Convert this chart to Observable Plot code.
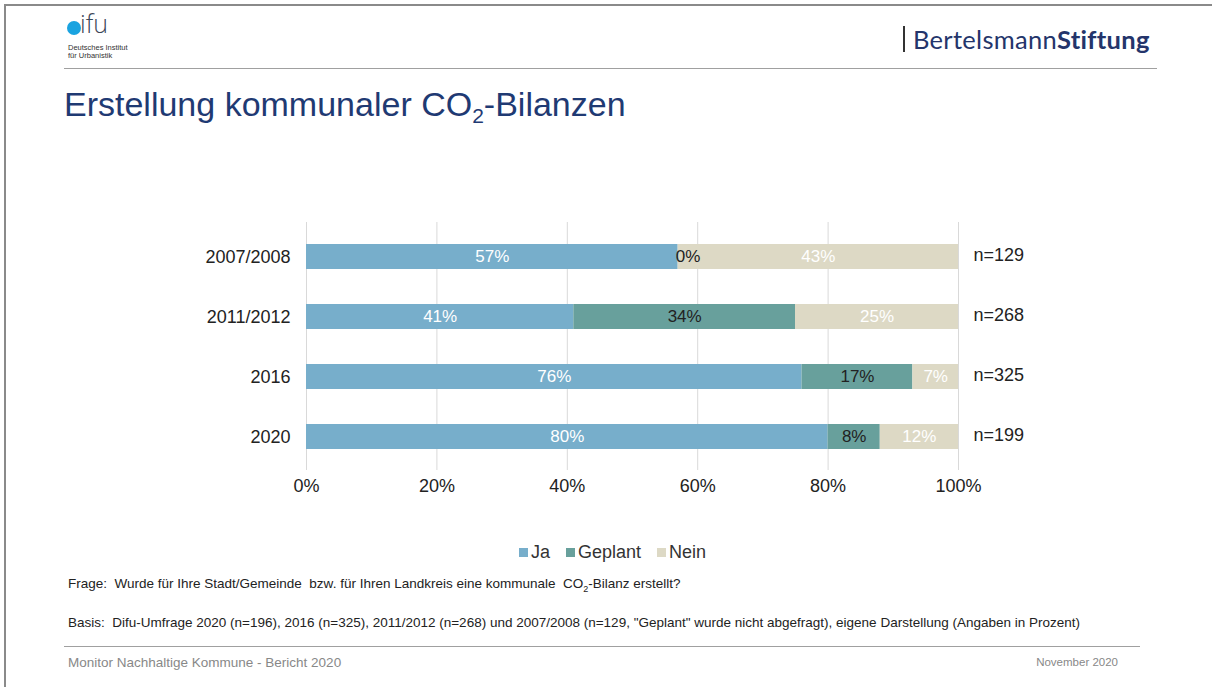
<!DOCTYPE html>
<html>
<head>
<meta charset="utf-8">
<script src="https://cdn.jsdelivr.net/npm/d3@7"></script>
<script src="https://cdn.jsdelivr.net/npm/@observablehq/plot@0.6"></script>
<style>
  html, body { margin: 0; padding: 0; background: #fff; }
  #page { position: relative; width: 1212px; height: 687px; overflow: hidden; font-family: "Liberation Sans", Arial, sans-serif; }
  .abs { position: absolute; white-space: nowrap; }
</style>
</head>
<body>
<div id="page">
  <div class="abs" style="left:4px;top:4px;width:1208px;height:2px;background:#8a8a8a"></div>
  <div class="abs" style="left:4px;top:4px;width:2px;height:683px;background:#8a8a8a"></div>

  <!-- difu logo -->
  <div class="abs" style="left:67px;top:21px;width:14px;height:14px;border-radius:50%;background:#1aa3e0"></div>
  <div class="abs" style="left:80px;top:13px;font-size:25px;color:#3c4658;line-height:20px;height:20px;font-family:'Open Sans',sans-serif;font-weight:300">ifu</div>
  <div class="abs" style="left:68px;top:44px;font-size:7.5px;color:#333;line-height:8px">Deutsches Institut<br>für Urbanistik</div>
  <div class="abs" style="left:64px;top:68px;width:1093px;height:1px;background:#a0a0a0"></div>

  <!-- Bertelsmann -->
  <div class="abs" style="left:903px;top:26px;width:2px;height:26px;background:#333"></div>
  <div class="abs" style="left:913px;top:24px;font-size:25.5px;color:#24356b;font-family:Lato, 'Open Sans', sans-serif;line-height:30px;letter-spacing:0.3px">Bertelsmann<b>Stiftung</b></div>

  <!-- Title -->
  <div class="abs" style="left:64px;top:84px;font-size:34px;color:#1f3a73;line-height:40px">Erstellung kommunaler CO<sub style="font-size:21px;vertical-align:-7px">2</sub>-Bilanzen</div>

  <div id="chart" class="abs" style="left:0;top:200px"></div>

  <!-- Legend -->
  <div id="legend" class="abs" style="left:519px;top:542px;font-size:18px;color:#333;line-height:20px"></div>

  <div class="abs" style="left:68px;top:576px;font-size:13.5px;color:#222">Frage:&nbsp;&nbsp;Wurde für Ihre Stadt/Gemeinde&nbsp; bzw. für Ihren Landkreis eine kommunale&nbsp; CO<sub style="font-size:9px">2</sub>-Bilanz erstellt?</div>
  <div class="abs" style="left:68px;top:615px;font-size:13.5px;color:#222">Basis:&nbsp;&nbsp;Difu-Umfrage 2020 (n=196), 2016 (n=325), 2011/2012 (n=268) und 2007/2008 (n=129, "Geplant" wurde nicht abgefragt), eigene Darstellung (Angaben in Prozent)</div>

  <div class="abs" style="left:64px;top:646px;width:1076px;height:1px;background:#a0a0a0"></div>
  <div class="abs" style="left:68px;top:655px;font-size:13.5px;color:#888">Monitor Nachhaltige Kommune - Bericht 2020</div>
  <div class="abs" style="right:94px;top:656px;font-size:11.5px;color:#888">November 2020</div>
</div>
<script>
const years = ["2007/2008", "2011/2012", "2016", "2020"];
const categories = ["Ja", "Geplant", "Nein"];
const ja = [57, 41, 76, 80];
const geplant = [0, 34, 17, 8];
const nein = [43, 25, 7, 12];
const nLabels = ["n=129", "n=268", "n=325", "n=199"];
const colors = ["#77aecb", "#68a09c", "#ddd9c5"];
const xTicks = [0, 20, 40, 60, 80, 100];

const series = [ja, geplant, nein];
const data = [];
years.forEach((y, i) => categories.forEach((c, k) => data.push({year: y, cat: c, value: series[k][i]})));
const nData = years.map((y, i) => ({year: y, label: nLabels[i]}));

const labelText = d => d.value + "%";
const stacked = extra => Plot.stackX({y: "year", x: "value", order: null, ...extra});

const chart = Plot.plot({
  width: 1212,
  height: 310,
  marginLeft: 306,
  marginRight: 254,
  marginTop: 22,
  marginBottom: 40,
  style: {fontFamily: "'Liberation Sans', Arial, sans-serif", fontSize: "18px", color: "#222", background: "transparent"},
  x: {domain: [0, 100], ticks: xTicks, tickFormat: d => d + "%", tickSize: 0, tickPadding: 9, label: null, fontSize: 17.5},
  y: {domain: years, padding: 0.59, paddingOuter: 0.34, tickSize: 0, tickPadding: 16, label: null},
  color: {domain: categories, range: colors},
  marks: [
    Plot.ruleX(xTicks, {stroke: "#d9d9d9", strokeWidth: 1}),
    Plot.barX(data, stacked({fill: "cat"})),
    Plot.text(data, Plot.filter(d => d.cat !== "Geplant", stacked({text: labelText, fill: "#fff", fontSize: 17}))),
    Plot.text(data, Plot.filter(d => d.cat === "Geplant" && d.value > 0, stacked({text: labelText, fill: "#222", fontSize: 17}))),
    Plot.text(data, Plot.filter(d => d.cat === "Geplant" && d.value === 0, stacked({text: labelText, fill: "#222", fontSize: 17, dx: 10}))),
    Plot.text(nData, {y: "year", x: () => 100, text: "label", textAnchor: "start", dx: 15, dy: -2, fill: "#222", fontSize: 18})
  ]
});
document.getElementById("chart").appendChild(chart);

const legend = document.getElementById("legend");
categories.forEach((c, k) => {
  const s = document.createElement("span");
  s.style.marginRight = "16px";
  s.innerHTML = `<span style="display:inline-block;width:9px;height:9px;background:${colors[k]};margin-right:3px;vertical-align:1px"></span>${c}`;
  legend.appendChild(s);
});
</script>
</body>
</html>
